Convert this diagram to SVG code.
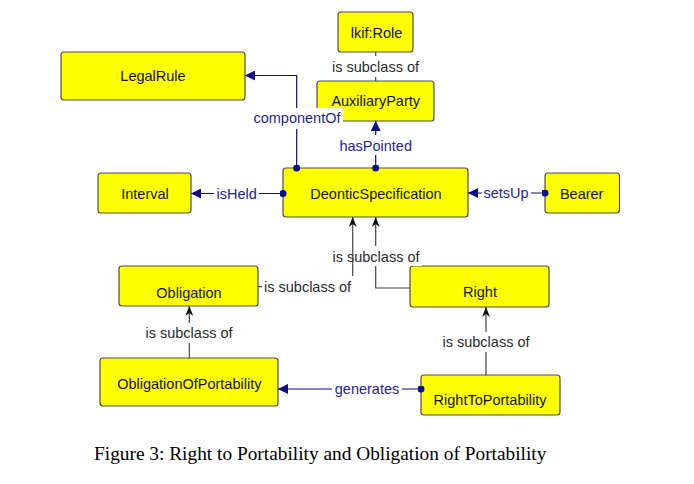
<svg xmlns="http://www.w3.org/2000/svg" width="694" height="484" viewBox="0 0 694 484">
<style>
.box{fill:#ffff00;stroke:#4d4d4d;stroke-width:1.2}
.nl{font-family:"Liberation Sans",Arial,sans-serif;font-size:14.5px;fill:#111;text-anchor:middle}
.sub{fill:none;stroke:#444;stroke-width:1.2}
.rel{fill:none;stroke:#0c0c8c;stroke-width:1.2}
.sl{font-family:"Liberation Sans",Arial,sans-serif;font-size:14.5px;fill:#2b2b2b;text-anchor:middle}
.rl{font-family:"Liberation Sans",Arial,sans-serif;font-size:14.5px;fill:#25259a;text-anchor:middle}
.bg{fill:#fff}
.cap{font-family:"Liberation Serif","Times New Roman",serif;font-size:19.35px;fill:#000}
</style>
<defs>
<marker id="tri" viewBox="0 0 10 10" refX="10" refY="5" markerWidth="10" markerHeight="10" orient="auto" markerUnits="userSpaceOnUse"><path d="M0,0 L10,5 L0,10 z" fill="#0c0c8c"/></marker>
<marker id="open" viewBox="0 0 10 8" refX="10" refY="4" markerWidth="10" markerHeight="8" orient="auto" markerUnits="userSpaceOnUse"><path d="M0,0 L10,4 L0,8 L3,4 z" fill="#111"/></marker>
<marker id="dot" viewBox="0 0 8 8" refX="4" refY="4" markerWidth="7" markerHeight="7" orient="auto" markerUnits="userSpaceOnUse"><circle cx="4" cy="4" r="4" fill="#0c0c8c"/></marker>
</defs>
<rect width="694" height="484" fill="#fff"/>
<g id="n-lkifRole"><rect class="box" x="338" y="12" width="75" height="40" rx="3"/><text class="nl" x="376.5" y="37.5">lkif:Role</text></g>
<g id="n-AuxiliaryParty"><rect class="box" x="317" y="81" width="117" height="40" rx="3"/><text class="nl" x="375.7" y="106">AuxiliaryParty</text></g>
<g id="n-LegalRule"><rect class="box" x="61" y="52" width="184" height="48" rx="3"/><text class="nl" x="153" y="81">LegalRule</text></g>
<g id="n-Interval"><rect class="box" x="98" y="173" width="93" height="40" rx="3"/><text class="nl" x="145" y="199">Interval</text></g>
<g id="n-DeonticSpecification"><rect class="box" x="283" y="168" width="185" height="49" rx="3"/><text class="nl" x="376" y="198.5">DeonticSpecification</text></g>
<g id="n-Bearer"><rect class="box" x="545" y="173" width="74.5" height="40" rx="3"/><text class="nl" x="581.7" y="198.5">Bearer</text></g>
<g id="n-Obligation"><rect class="box" x="119" y="266" width="139" height="40" rx="3"/><text class="nl" x="189" y="297.5">Obligation</text></g>
<g id="n-Right"><rect class="box" x="410" y="266" width="139" height="41" rx="3"/><text class="nl" x="480" y="297">Right</text></g>
<g id="n-ObligationOfPortability"><rect class="box" x="100" y="358" width="178" height="48" rx="3"/><text class="nl" x="189.3" y="389">ObligationOfPortability</text></g>
<g id="n-RightToPortability"><rect class="box" x="421" y="375" width="139" height="40" rx="3"/><text class="nl" x="490" y="405">RightToPortability</text></g>
<g id="connectors">
<path class="sub" d="M375.7,81 V52"/>
<rect class="bg" x="329" y="56" width="93" height="21"/>
<text class="sl" x="375.5" y="72">is subclass of</text>
<path class="rel" d="M296.7,168 V75.5 H245" marker-start="url(#dot)" marker-end="url(#tri)"/>
<rect class="bg" x="251" y="108" width="92" height="21"/>
<text class="rl" x="297" y="123">componentOf</text>
<path class="rel" d="M375.7,168 V121" marker-start="url(#dot)" marker-end="url(#tri)"/>
<rect class="bg" x="336" y="135" width="80" height="20"/>
<text class="rl" x="375.7" y="150.5">hasPointed</text>
<path class="rel" d="M283,193.5 H191" marker-start="url(#dot)" marker-end="url(#tri)"/>
<rect class="bg" x="214" y="184" width="45" height="20"/>
<text class="rl" x="236.7" y="199">isHeld</text>
<path class="rel" d="M545,193 H468" marker-start="url(#dot)" marker-end="url(#tri)"/>
<rect class="bg" x="482" y="183" width="49" height="20"/>
<text class="rl" x="506" y="198">setsUp</text>
<path class="rel" d="M421,389 H278" marker-start="url(#dot)" marker-end="url(#tri)"/>
<rect class="bg" x="332" y="379" width="70" height="20"/>
<text class="rl" x="367" y="394">generates</text>
<path class="sub" d="M189.3,358 V306" marker-end="url(#open)"/>
<rect class="bg" x="143" y="323" width="93" height="20"/>
<text class="sl" x="189" y="338">is subclass of</text>
<path class="sub" d="M486,375 V307" marker-end="url(#open)"/>
<rect class="bg" x="440" y="332" width="93" height="20"/>
<text class="sl" x="486" y="347">is subclass of</text>
<path class="sub" d="M410,288 H375.7 V217" marker-end="url(#open)"/>
<rect class="bg" x="330" y="246" width="92" height="20"/>
<text class="sl" x="376" y="262">is subclass of</text>
<path class="sub" d="M258,286.7 H352.7 V217" marker-end="url(#open)"/>
<rect class="bg" x="262" y="276" width="94" height="21"/>
<text class="sl" x="264" y="292" style="text-anchor:start">is subclass of</text>
</g>
<text class="cap" x="94" y="460">Figure 3: Right to Portability and Obligation of Portability</text>
</svg>
